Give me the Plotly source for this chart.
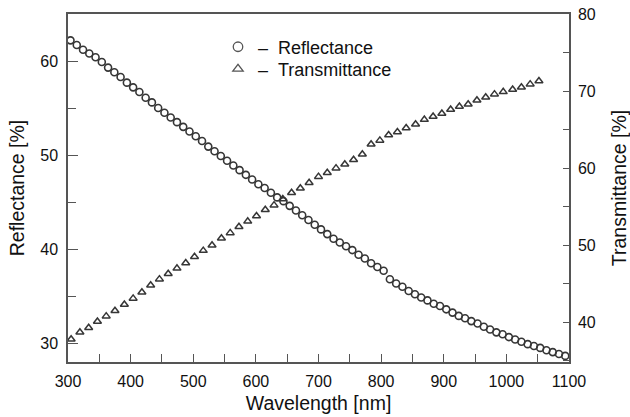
import plotly.graph_objects as go

# Reflectance (circles), wavelength in nm
wl_refl = [304, 314, 324, 334, 344, 354, 364, 374, 384, 394,
           404, 414, 424, 434, 444, 454, 464, 474, 484, 494,
           504, 514, 524, 534, 544, 554, 564, 574, 584, 594,
           604, 614, 624, 634, 644, 654, 664, 674, 684, 694,
           704, 714, 724, 734, 744, 754, 764, 774, 784, 794,
           804, 814, 824, 834, 844, 854, 864, 874, 884, 894,
           904, 914, 924, 934, 944, 954, 964, 974, 984, 994,
           1004, 1014, 1024, 1034, 1044, 1054, 1064, 1074, 1084, 1094]
reflectance = [62.2, 61.7, 61.2, 60.8, 60.4, 59.9, 59.3, 58.8, 58.3, 57.7,
               57.2, 56.7, 56.1, 55.6, 55.0, 54.5, 54.0, 53.5, 53.0, 52.5,
               52.0, 51.5, 50.9, 50.4, 49.9, 49.4, 48.9, 48.4, 47.9, 47.4,
               46.9, 46.5, 46.0, 45.5, 45.1, 44.6, 44.1, 43.6, 43.1, 42.6,
               42.1, 41.6, 41.1, 40.7, 40.3, 39.9, 39.4, 39.0, 38.5, 38.1,
               37.7, 36.8, 36.35, 36.0, 35.55, 35.2, 34.85, 34.55, 34.2, 33.95,
               33.6, 33.25, 32.9, 32.65, 32.35, 32.1, 31.75, 31.45, 31.15, 30.95,
               30.65, 30.4, 30.15, 29.9, 29.7, 29.5, 29.25, 29.05, 28.85, 28.65]

# Transmittance (triangles), wavelength in nm
wl_trans = [305, 319, 333, 347, 361, 375, 390, 404, 418, 432,
            446, 460, 474, 488, 502, 516, 530, 545, 559, 573,
            587, 601, 615, 629, 643, 657, 671, 685, 700, 714,
            728, 742, 756, 770, 784, 798, 812, 826, 840, 855,
            869, 883, 897, 911, 925, 939, 953, 967, 981, 995,
            1010, 1024, 1038, 1052]
transmittance = [37.8, 38.7, 39.3, 40.1, 40.8, 41.5, 42.3, 43.1, 43.9, 44.8,
                 45.6, 46.3, 47.0, 47.7, 48.5, 49.3, 50.0, 50.9, 51.6, 52.4,
                 53.1, 53.8, 54.6, 55.2, 56.0, 56.8, 57.4, 58.1, 58.9, 59.4,
                 60.0, 60.5, 61.1, 61.8, 63.1, 63.6, 64.3, 64.7, 65.2, 65.7,
                 66.3, 66.7, 67.1, 67.6, 68.0, 68.3, 68.8, 69.2, 69.6, 69.9,
                 70.2, 70.5, 70.9, 71.3]

series_names = ["\u2013\u00a0\u00a0Reflectance", "\u2013\u00a0\u00a0Transmittance"]

FONT = "Liberation Sans, Arial, sans-serif"
AX = "#555555"
MK = "#363636"

circ = dict(symbol="circle-open", color=MK)
tri = dict(symbol="triangle-up-open", color=MK)

fig = go.Figure()
fig.add_trace(go.Scatter(
    x=wl_refl, y=reflectance, mode="markers", name=series_names[0], showlegend=False,
    marker=dict(size=7, line=dict(width=1.6, color=MK), **circ),
    yaxis="y", cliponaxis=False))
fig.add_trace(go.Scatter(
    x=wl_trans, y=transmittance, mode="markers", name=series_names[1], showlegend=False,
    marker=dict(size=7, line=dict(width=1.5, color=MK), **tri),
    yaxis="y2", cliponaxis=False))
# legend-only entries (larger symbols, as in the reference key)
fig.add_trace(go.Scatter(
    x=[None], y=[None], mode="markers", name=series_names[0], legend="legend",
    marker=dict(size=9.5, line=dict(width=1.3, color="#555555"), symbol="circle-open", color="#555555"),
    yaxis="y"))
fig.add_trace(go.Scatter(
    x=[None], y=[None], mode="markers", name=series_names[1], legend="legend2",
    marker=dict(size=9, line=dict(width=1.3, color="#555555"), symbol="triangle-up-open", color="#555555"),
    yaxis="y"))

leg_common = dict(xanchor="left", yanchor="middle", bgcolor="rgba(0,0,0,0)",
                  font=dict(size=18, family=FONT, color="#111111"))

fig.update_layout(
    width=630, height=417,
    margin=dict(l=68, r=61, t=14, b=55),
    paper_bgcolor="white", plot_bgcolor="white",
    font=dict(family=FONT, size=16, color="#111111"),
    showlegend=True,
    legend=dict(x=0.2994, y=0.905, **leg_common),
    legend2=dict(x=0.2994, y=0.8415, **leg_common),
    xaxis=dict(
        range=[300, 1100], dtick=100, tick0=300, automargin=False,
        showline=True, linecolor=AX, linewidth=1.5, mirror=True,
        ticks="inside", ticklen=8, tickwidth=1.3, tickcolor=AX,
        minor=dict(ticks="inside", dtick=50, ticklen=8, tickwidth=1.3, tickcolor=AX),
        showgrid=False, zeroline=False,
        tickfont=dict(size=16), ticklabelstandoff=4,
        title=dict(text="Wavelength [nm]", font=dict(size=19.5), standoff=7),
    ),
    yaxis=dict(
        range=[28, 65], dtick=10, tick0=30, automargin=False,
        showline=True, linecolor=AX, linewidth=1.5,
        ticks="inside", ticklen=10, tickwidth=1.3, tickcolor=AX,
        minor=dict(ticks="inside", dtick=5, ticklen=8, tickwidth=1.3, tickcolor=AX),
        showgrid=False, zeroline=False,
        tickfont=dict(size=16), ticklabelstandoff=5,
        title=dict(text="Reflectance [%]", font=dict(size=19.5), standoff=10),
    ),
    yaxis2=dict(
        range=[34.85, 80], dtick=10, tick0=40, overlaying="y", side="right", automargin=False,
        showline=True, linecolor=AX, linewidth=1.5,
        ticks="inside", ticklen=6, tickwidth=1.3, tickcolor=AX,
        minor=dict(ticks="inside", dtick=5, ticklen=6, tickwidth=1.3, tickcolor=AX),
        showgrid=False, zeroline=False,
        tickfont=dict(size=16), ticklabelstandoff=4,
        title=dict(text="Transmittance [%]", font=dict(size=19.5), standoff=18),
    ),
)

fig.write_html("out.html", config={"displayModeBar": False},
               post_script="document.body.style.margin='0';document.body.style.overflow='hidden';")
